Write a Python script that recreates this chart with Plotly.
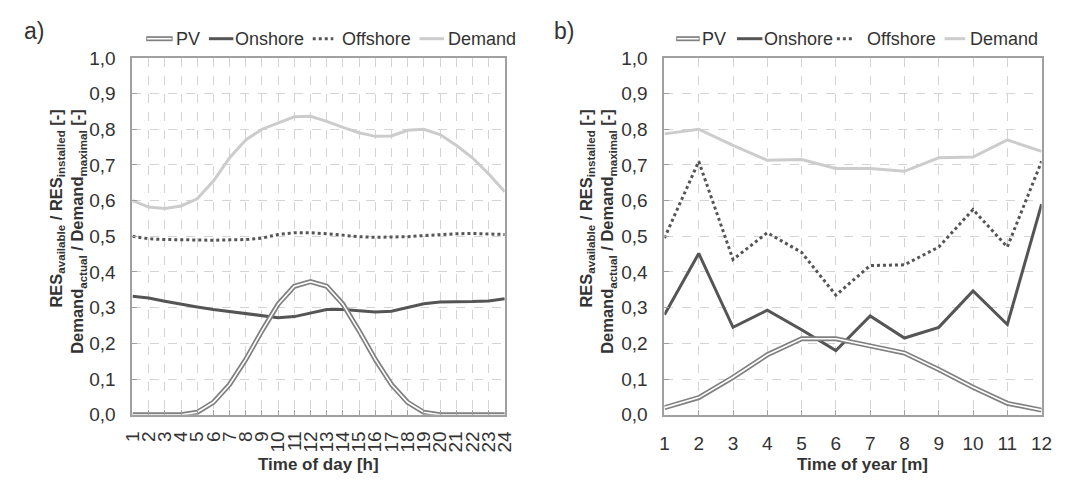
import plotly.graph_objects as go

# ---------------- data ----------------
hours = list(range(1, 25))
pv_day = [0, 0, 0, 0, 0.007, 0.035, 0.085, 0.155, 0.235, 0.31, 0.36, 0.373,
          0.36, 0.31, 0.235, 0.155, 0.085, 0.035, 0.007, 0, 0, 0, 0, 0]
onshore_day = [0.332, 0.327, 0.318, 0.309, 0.302, 0.295, 0.289, 0.282, 0.276, 0.272, 0.275, 0.285,
               0.295, 0.295, 0.291, 0.288, 0.290, 0.300, 0.311, 0.316, 0.316, 0.317, 0.319, 0.325]
offshore_day = [0.500, 0.493, 0.491, 0.490, 0.489, 0.489, 0.490, 0.491, 0.495, 0.505, 0.510, 0.510,
                0.507, 0.502, 0.499, 0.497, 0.497, 0.499, 0.502, 0.505, 0.507, 0.508, 0.507, 0.505]
demand_day = [0.600, 0.582, 0.578, 0.585, 0.605, 0.655, 0.720, 0.770, 0.800, 0.818, 0.835, 0.836,
              0.822, 0.805, 0.790, 0.780, 0.781, 0.797, 0.800, 0.785, 0.755, 0.720, 0.675, 0.625]

months = list(range(1, 13))
pv_year = [0.020, 0.048, 0.105, 0.168, 0.213, 0.213, 0.193, 0.173, 0.127, 0.077, 0.032, 0.013]
onshore_year = [0.280, 0.452, 0.245, 0.293, 0.238, 0.180, 0.277, 0.215, 0.245, 0.347, 0.253, 0.590]
offshore_year = [0.495, 0.710, 0.435, 0.510, 0.455, 0.335, 0.418, 0.420, 0.470, 0.575, 0.470, 0.710]
demand_year = [0.787, 0.800, 0.755, 0.713, 0.715, 0.690, 0.690, 0.682, 0.720, 0.722, 0.770, 0.738]

y_ticks = [i / 10 for i in range(11)]
y_ticktext = [f"{v:.1f}".replace(".", ",") for v in y_ticks]
series_names = ["PV", "Onshore", "Offshore", "Demand"]

# ---------------- styling ----------------
W, H = 1082, 487
FONT = "Liberation Sans, Arial, sans-serif"
TXT = "#333333"
C_PV = "#808080"
C_ON = "#555555"
C_OFF = "#555555"
C_DEM = "#cccccc"
BORDER = "#a0a0a0"
GRID = "#d4d4d4"

def px_x(x):
    return x / W

def px_y(y):
    return 1 - y / H

fig = go.Figure()

def add_panel(x, pv, on, off, dem, xa, ya):
    fig.add_trace(go.Scatter(x=x, y=dem, mode="lines", line=dict(color=C_DEM, width=3),
                             xaxis=xa, yaxis=ya, showlegend=False, hoverinfo="skip"))
    fig.add_trace(go.Scatter(x=x, y=off, mode="lines", line=dict(color=C_OFF, width=3, dash="dot"),
                             xaxis=xa, yaxis=ya, showlegend=False, hoverinfo="skip"))
    fig.add_trace(go.Scatter(x=x, y=on, mode="lines", line=dict(color=C_ON, width=3),
                             xaxis=xa, yaxis=ya, showlegend=False, hoverinfo="skip"))
    fig.add_trace(go.Scatter(x=x, y=pv, mode="lines", line=dict(color=C_PV, width=5),
                             xaxis=xa, yaxis=ya, showlegend=False, hoverinfo="skip"))
    fig.add_trace(go.Scatter(x=x, y=pv, mode="lines", line=dict(color="white", width=1.6),
                             xaxis=xa, yaxis=ya, showlegend=False, hoverinfo="skip"))

add_panel(hours, pv_day, onshore_day, offshore_day, demand_day, "x", "y")
add_panel(months, pv_year, onshore_year, offshore_year, demand_year, "x2", "y2")

# plot areas in px
L1, R1 = 124, 504
L2, R2 = 667, 1052
TOP, BOT = 50, 423

axis_common = dict(showline=True, mirror=True, linecolor=BORDER, linewidth=2,
                   showgrid=True, gridcolor=GRID, gridwidth=1, griddash="dash",
                   ticks="inside", ticklen=5, tickcolor=BORDER, tickwidth=1,
                   zeroline=False, tickfont=dict(family=FONT, size=19, color=TXT))

fig.update_layout(
    width=W, height=H,
    margin=dict(l=0, r=0, t=0, b=0),
    paper_bgcolor="white", plot_bgcolor="white",
    showlegend=False,
    xaxis=dict(domain=[px_x(L1), px_x(R1)], range=[1, 24], tickvals=hours,
               ticktext=[str(h) for h in hours], tickangle=-90, anchor="y",
               ticklabelstandoff=7, **axis_common),
    yaxis=dict(domain=[px_y(BOT), px_y(TOP)], range=[0, 1], tickvals=y_ticks,
               ticktext=y_ticktext, anchor="x", ticklabelstandoff=11, **axis_common),
    xaxis2=dict(domain=[px_x(L2), px_x(R2)], range=[1, 12], tickvals=months,
                ticktext=[str(m) for m in months], tickangle=0, anchor="y2",
                ticklabelstandoff=10, **axis_common),
    yaxis2=dict(domain=[px_y(BOT), px_y(TOP)], range=[0, 1], tickvals=y_ticks,
                ticktext=y_ticktext, anchor="x2", ticklabelstandoff=11, **axis_common),
)

ytitle = ("<b>RES<sub>available</sub> / RES<sub>installed</sub> [-]<br>"
          "Demand<sub>actual</sub> / Demand<sub>maximal</sub> [-]</b>")

annotations = []
shapes = []

for off, label, xt_text, xt_x in [(0, "a)", "<b>Time of day [h]</b>", 314),
                                  (541, "b)", "<b>Time of year [m]</b>", 869)]:
    annotations.append(dict(text=label, x=px_x(off + 11), y=px_y(22), xref="paper", yref="paper",
                            xanchor="left", yanchor="middle", showarrow=False,
                            font=dict(family=FONT, size=23, color=TXT)))
    annotations.append(dict(text=ytitle, x=px_x(off + 58), y=px_y(231), xref="paper", yref="paper",
                            xanchor="center", yanchor="middle", textangle=-90, showarrow=False,
                            align="right", font=dict(family=FONT, size=16.5, color=TXT)))
    annotations.append(dict(text=xt_text, x=px_x(xt_x), y=px_y(475), xref="paper", yref="paper",
                            xanchor="center", yanchor="middle", showarrow=False,
                            font=dict(family=FONT, size=17, color=TXT)))

# custom legends (symbol start, symbol end, text start) in px
legend_pos = {
    0: [(138, 165, 166), (202, 227, 227), (308, 329, 336), (417, 442, 444)],
    1: [(679, 703, 703), (741, 767, 767), (843, 860, 872), (953, 974, 977)],
}
LEG_Y = 30
for panel, items in legend_pos.items():
    for name, (s0, s1, t0) in zip(series_names, items):
        if name == "PV":
            shapes.append(dict(type="line", xref="paper", yref="paper", x0=px_x(s0), x1=px_x(s1),
                               y0=px_y(LEG_Y), y1=px_y(LEG_Y), line=dict(color=C_PV, width=5)))
            shapes.append(dict(type="line", xref="paper", yref="paper", x0=px_x(s0 + 1), x1=px_x(s1 - 1),
                               y0=px_y(LEG_Y), y1=px_y(LEG_Y), line=dict(color="white", width=1.6)))
        elif name == "Onshore":
            shapes.append(dict(type="line", xref="paper", yref="paper", x0=px_x(s0), x1=px_x(s1),
                               y0=px_y(LEG_Y), y1=px_y(LEG_Y), line=dict(color=C_ON, width=3)))
        elif name == "Offshore":
            shapes.append(dict(type="line", xref="paper", yref="paper", x0=px_x(s0), x1=px_x(s1),
                               y0=px_y(LEG_Y), y1=px_y(LEG_Y), line=dict(color=C_OFF, width=3, dash="dot")))
        else:
            shapes.append(dict(type="line", xref="paper", yref="paper", x0=px_x(s0), x1=px_x(s1),
                               y0=px_y(LEG_Y), y1=px_y(LEG_Y), line=dict(color=C_DEM, width=3)))
        annotations.append(dict(text=name, x=px_x(t0), y=px_y(LEG_Y), xref="paper", yref="paper",
                                xanchor="left", yanchor="middle", showarrow=False,
                                font=dict(family=FONT, size=18, color=TXT)))

fig.update_layout(annotations=annotations, shapes=shapes)

fig.write_html("out.html")
